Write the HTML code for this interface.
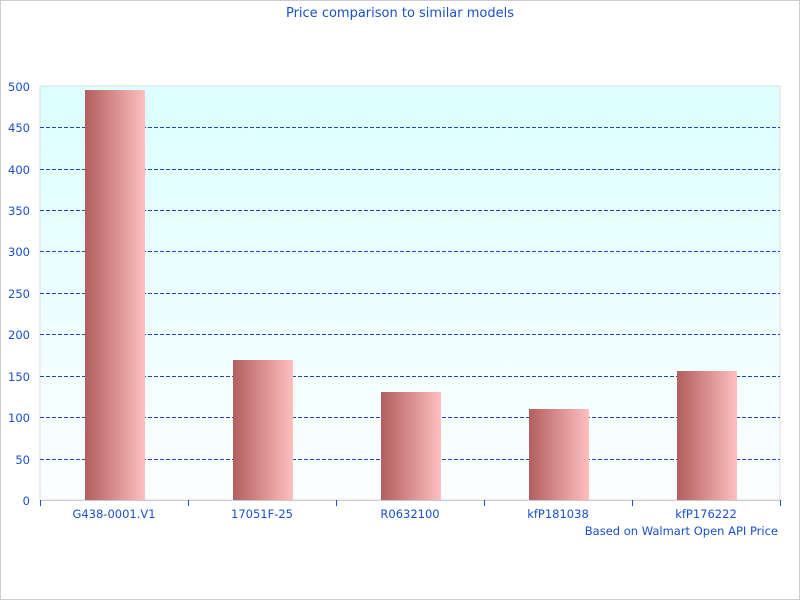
<!DOCTYPE html>
<html><head><style>body{margin:0}svg{display:block}</style></head><body>
<svg width="800" height="600" xmlns="http://www.w3.org/2000/svg" font-family="DejaVu Sans, sans-serif" font-size="11.5" fill="#1a4fcc">
<defs>
<linearGradient id="bg" x1="0" y1="0" x2="0" y2="1"><stop offset="0" stop-color="#dcffff"/><stop offset="1" stop-color="#fcfeff"/></linearGradient>
<linearGradient id="bar" x1="0" y1="0" x2="1" y2="0"><stop offset="0" stop-color="#b25e5e"/><stop offset="1" stop-color="#ffbfbf"/></linearGradient>
</defs>
<rect x="0.5" y="0.5" width="799" height="599" fill="#fff" stroke="#ccc"/>
<text x="400" y="17" text-anchor="middle" font-size="13">Price comparison to similar models</text>
<rect x="40" y="86" width="740" height="414" fill="url(#bg)" stroke="#ddd"/>
<g stroke="#2244bb" stroke-dasharray="4,2" stroke-width="1">
<line x1="40" x2="780" y1="127.5" y2="127.5"/><line x1="40" x2="780" y1="169.5" y2="169.5"/>
<line x1="40" x2="780" y1="210.5" y2="210.5"/><line x1="40" x2="780" y1="251.5" y2="251.5"/>
<line x1="40" x2="780" y1="293.5" y2="293.5"/><line x1="40" x2="780" y1="334.5" y2="334.5"/>
<line x1="40" x2="780" y1="376.5" y2="376.5"/><line x1="40" x2="780" y1="417.5" y2="417.5"/>
<line x1="40" x2="780" y1="459.5" y2="459.5"/>
</g>
<g fill="url(#bar)">
<rect x="85" y="90" width="60" height="410"/>
<rect x="233" y="360" width="60" height="140"/>
<rect x="381" y="392" width="60" height="108"/>
<rect x="529" y="409" width="60" height="91"/>
<rect x="677" y="371" width="60" height="129"/>
</g>
<line x1="40" x2="780" y1="500.5" y2="500.5" stroke="#ccc"/>
<g stroke="#1a4fcc"><line x1="40.5" x2="40.5" y1="500" y2="506"/><line x1="188.5" x2="188.5" y1="500" y2="506"/><line x1="336.5" x2="336.5" y1="500" y2="506"/><line x1="484.5" x2="484.5" y1="500" y2="506"/><line x1="632.5" x2="632.5" y1="500" y2="506"/><line x1="780.5" x2="780.5" y1="500" y2="506"/></g>
<g text-anchor="end">
<text x="30" y="91">500</text><text x="30" y="132">450</text><text x="30" y="174">400</text><text x="30" y="215">350</text><text x="30" y="256">300</text><text x="30" y="298">250</text><text x="30" y="339">200</text><text x="30" y="381">150</text><text x="30" y="422">100</text><text x="30" y="464">50</text><text x="30" y="505">0</text>
</g>
<g text-anchor="middle">
<text x="114" y="518">G438-0001.V1</text><text x="262" y="518">17051F-25</text><text x="410" y="518">R0632100</text><text x="558" y="518">kfP181038</text><text x="706" y="518">kfP176222</text>
</g>
<text x="778" y="535" text-anchor="end">Based on Walmart Open API Price</text>
</svg>
</body></html>
